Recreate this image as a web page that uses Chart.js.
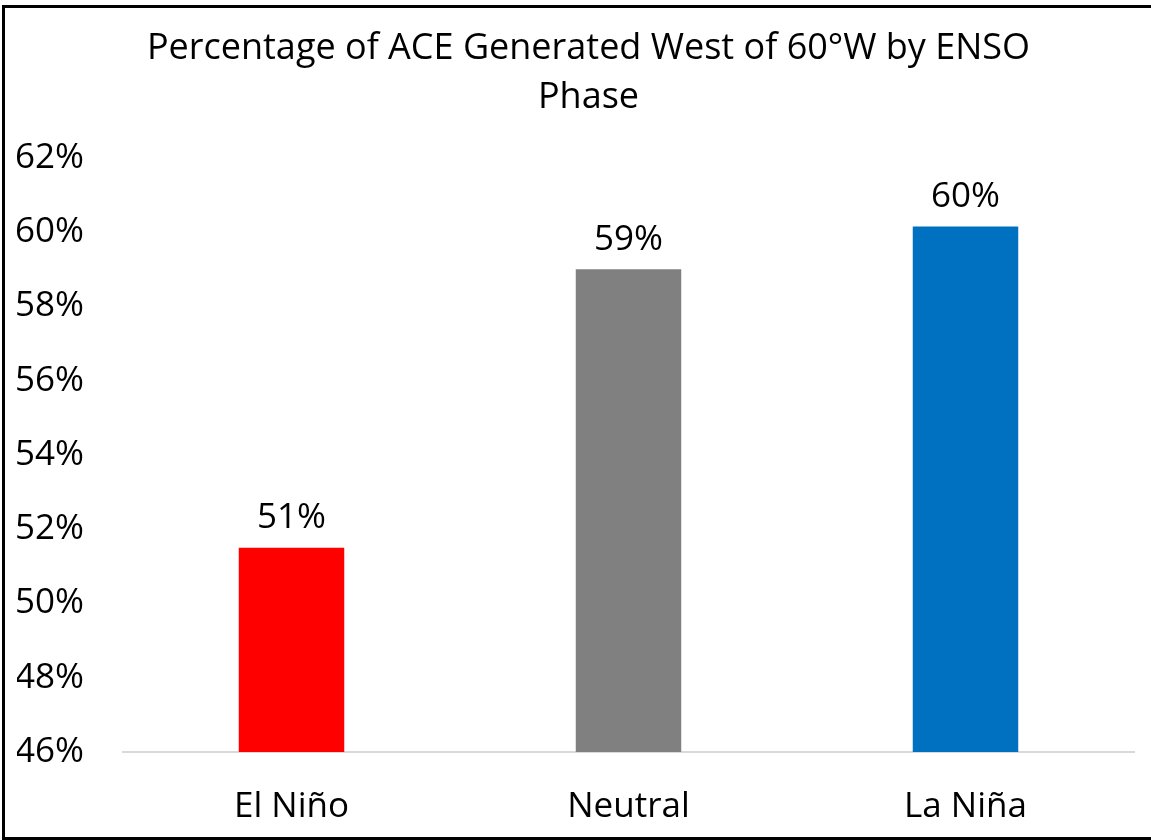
<!DOCTYPE html>
<html>
<head>
<meta charset="utf-8">
<script src="https://cdn.jsdelivr.net/npm/chart.js@4/dist/chart.umd.min.js"></script>
<style>
  html, body { margin: 0; padding: 0; background: #fff; overflow: hidden; }
  #wrap {
    position: absolute; left: 2px; top: 5px;
    width: 1160px; height: 829px;
    border: 3px solid #000; background: #fff;
  }
  #box { position: absolute; left: 0; top: 0; width: 1146px; height: 829px; }
</style>
</head>
<body>
<div id="wrap"><div id="box"><canvas id="chart"></canvas></div></div>
<script>
// ── DATOS ──────────────────────────────────────────
const PHASES     = ['El Niño', 'Neutral', 'La Niña'];
const ACE_WEST   = [51.5, 59.0, 60.15];
const ACE_LABELS = ['51%', '59%', '60%'];
const BAR_COLORS = ['#ff0000', '#808080', '#0070c0'];
const Y_MIN = 46, Y_MAX = 62, Y_STEP = 2;

const FONT = '"Open Sans", sans-serif';

// etiquetas encima de cada barra
const barLabels = {
  id: 'barLabels',
  afterDatasetsDraw(chart) {
    const { ctx } = chart;
    const meta = chart.getDatasetMeta(0);
    ctx.save();
    ctx.font = `35px ${FONT}`;
    ctx.fillStyle = '#000';
    ctx.textAlign = 'center';
    ctx.textBaseline = 'bottom';
    meta.data.forEach((bar, i) => {
      ctx.fillText(ACE_LABELS[i], bar.x, bar.y - 12);
    });
    ctx.restore();
  }
};

// el título va algo desplazado a la derecha
const titleShift = {
  id: 'titleShift',
  afterLayout(chart) {
    const t = chart.titleBlock;
    if (!t) return;
    t.left += 13;
    t.right += 13;
  }
};

new Chart(document.getElementById('chart'), {
  type: 'bar',
  data: {
    labels: PHASES,
    datasets: [{
      data: ACE_WEST,
      backgroundColor: BAR_COLORS,
      borderWidth: 0,
      categoryPercentage: 1,
      barPercentage: 0.313
    }]
  },
  options: {
    responsive: true,
    maintainAspectRatio: false,
    animation: false,
    layout: { padding: { left: 12, right: 17, top: 16, bottom: 16 } },
    plugins: {
      legend: { display: false },
      tooltip: { enabled: false },
      title: {
        display: true,
        text: ['Percentage of ACE Generated West of 60°W by ENSO', 'Phase'],
        color: '#000',
        font: { family: FONT, size: 36, weight: 'normal', lineHeight: 1.36 },
        padding: { top: 0, bottom: 36 }
      }
    },
    scales: {
      x: {
        grid: { display: false, drawTicks: false },
        border: { display: true, color: '#d9d9d9', width: 2 },
        ticks: { color: '#000', font: { family: FONT, size: 35 }, padding: 34 },
        afterFit: s => { s.height = 69; }
      },
      y: {
        min: Y_MIN, max: Y_MAX,
        grid: { display: false, drawTicks: false },
        border: { display: false },
        ticks: {
          stepSize: Y_STEP,
          color: '#000',
          font: { family: FONT, size: 35 },
          padding: 39,
          callback: v => v + '%'
        },
        afterFit: s => { s.width = 106; }
      }
    }
  },
  plugins: [barLabels, titleShift]
});
</script>
</body>
</html>
